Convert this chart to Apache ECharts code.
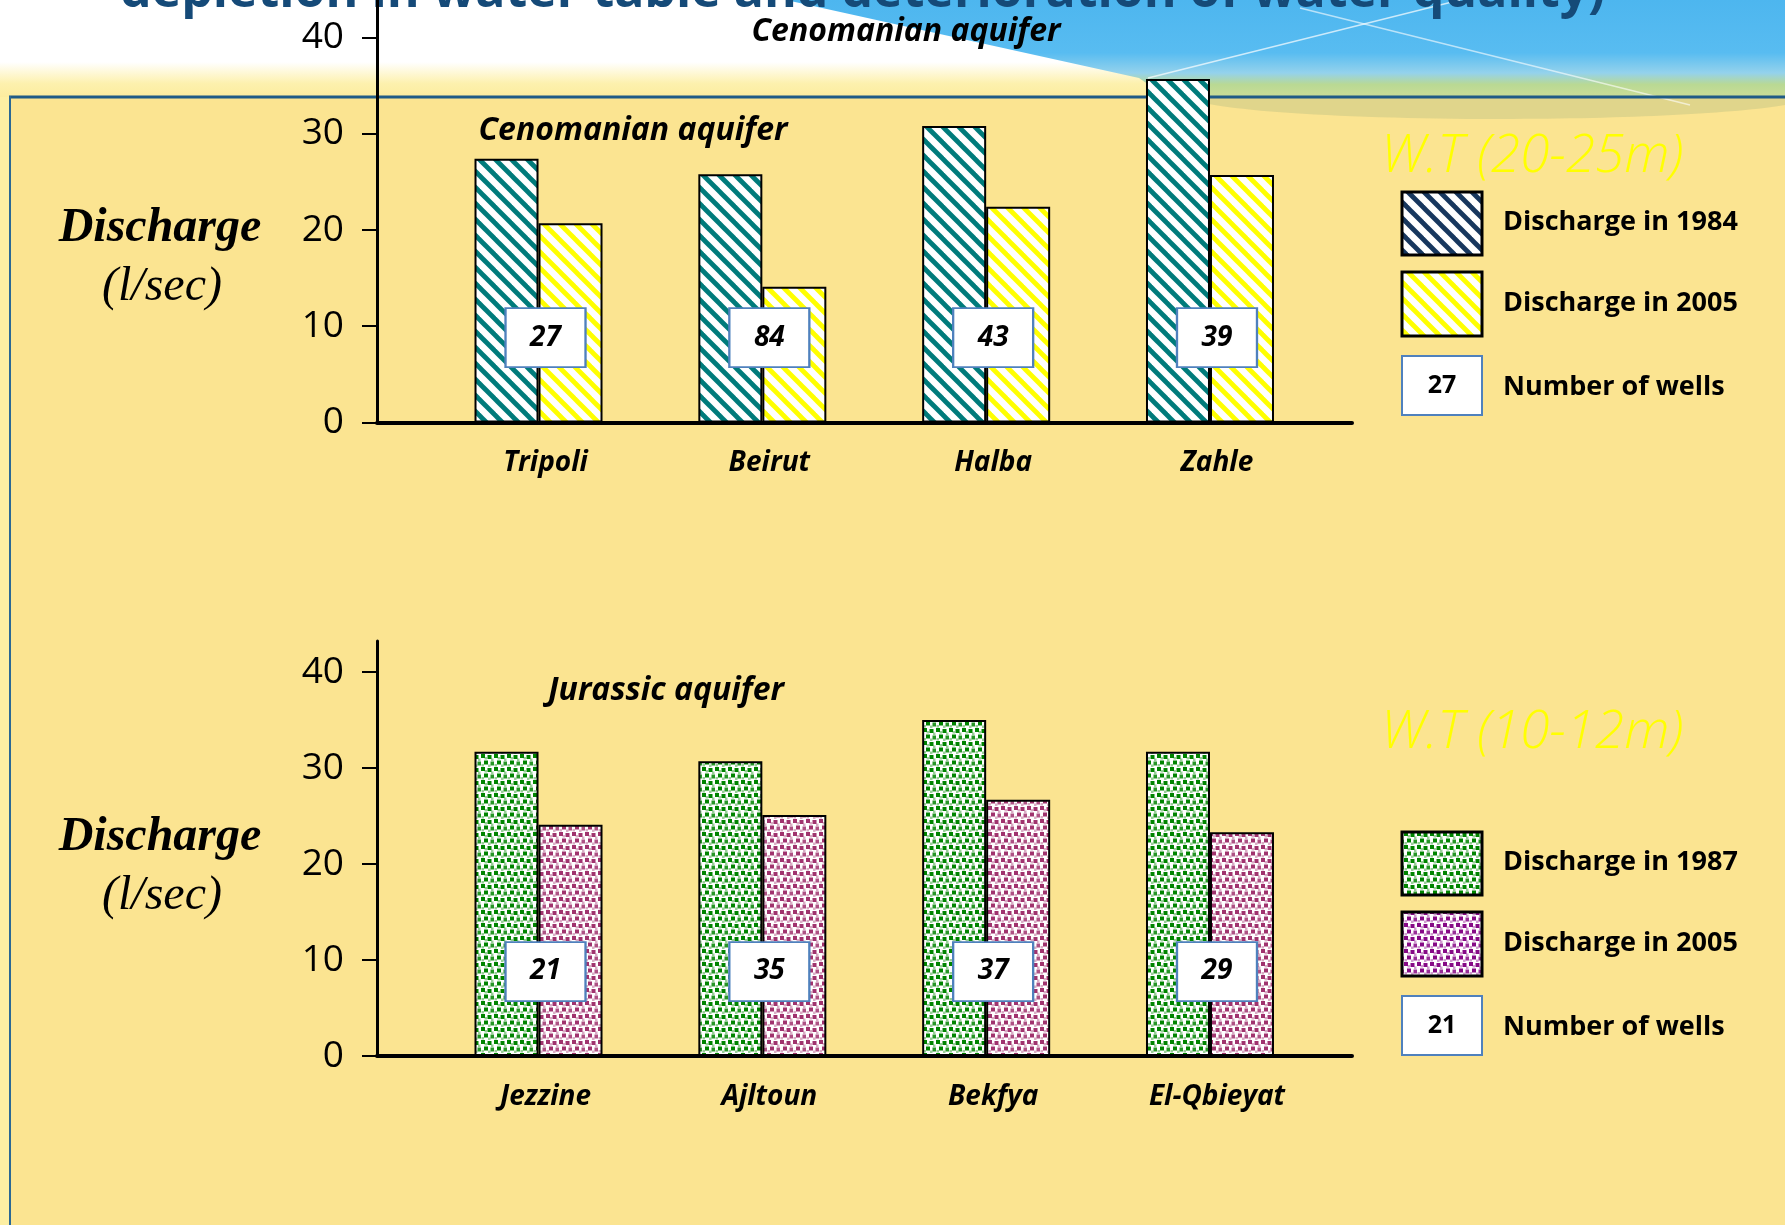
<!DOCTYPE html>
<html><head><meta charset="utf-8">
<script src="https://cdn.jsdelivr.net/npm/echarts@6/dist/echarts.min.js"></script>
<style>html,body{margin:0;padding:0;background:#FBE491;overflow:hidden}#c{width:1785px;height:1225px}</style>
</head><body><div id="c"></div>
<script>
// ---------------- data ----------------
const cenomanianCities = ['Tripoli', 'Beirut', 'Halba', 'Zahle'];
const discharge1984 = [27.4, 25.8, 30.8, 35.7];
const discharge2005Cen = [20.7, 14.1, 22.4, 25.7];
const wellsCen = [27, 84, 43, 39];

const jurassicCities = ['Jezzine', 'Ajltoun', 'Bekfya', 'El-Qbieyat'];
const discharge1987 = [31.7, 30.7, 35.0, 31.7];
const discharge2005Jur = [24.1, 25.1, 26.7, 23.3];
const wellsJur = [21, 35, 37, 29];

const yTickValues = [0, 10, 20, 30, 40];

// ---------------- layout / style ----------------
const SANS = '"Open Sans", "Noto Sans", sans-serif';
const SERIF = '"Liberation Serif", "DejaVu Serif", serif';
const BOX_LEVEL = 8.8;      // vertical centre of the "number of wells" boxes
const TOP_MAX = 43.9, BOT_MAX = 43.23;

function stripes(color) {
  const c = document.createElement('canvas'); c.width = c.height = 16;
  const g = c.getContext('2d');
  g.fillStyle = '#fff'; g.fillRect(0, 0, 16, 16);
  g.strokeStyle = color; g.lineWidth = 4.8;
  for (const o of [-16, 0, 16]) { g.beginPath(); g.moveTo(o - 4, -4); g.lineTo(o + 20, 20); g.stroke(); }
  return { image: c, repeat: 'repeat' };
}
function dots(color) {
  const s = 13, c = document.createElement('canvas'); c.width = c.height = s;
  const g = c.getContext('2d');
  g.fillStyle = '#fff'; g.fillRect(0, 0, s, s);
  g.fillStyle = color;
  [[0,0,4,1],[6.5,1,4,1],[3,6.5,4,1],[9.5,7.5,4,0.85],[3.5,3,2.5,0.4],[10,4.5,2.5,0.4],[7,10.5,2.5,0.4],[0.5,10,2.5,0.4]]
    .forEach(([x, y, d, a]) => { g.globalAlpha = a; g.fillRect(x, y, d, d); });
  g.globalAlpha = 1;
  return { image: c, repeat: 'repeat' };
}
const PAT_TEAL = stripes('#007B7B');
const PAT_YELLOW = stripes('#FFFF00');
const PAT_NAVY = stripes('#17375E');
const PAT_GREEN = dots('#008400');
const PAT_MAGENTA = dots('#A0336E');
const PAT_PURPLE = dots('#860A86');

const chart = echarts.init(document.getElementById('c'), null, { renderer: 'canvas' });

function barGridAxes(gi, cats) {
  return {
    x: { gridIndex: gi, type: 'category', data: cats,
         axisLine: { show: false }, axisTick: { show: false },
         axisLabel: { color: '#000', fontFamily: SANS, fontSize: 28, fontWeight: 'bold', fontStyle: 'italic',
                      margin: 27, padding: [0, 0, 0, 14] } },
    y: { gridIndex: gi, type: 'value', min: 0, max: gi === 0 ? TOP_MAX : BOT_MAX, show: false, splitLine: { show: false } }
  };
}
function frameAxes(gi, max) {
  return {
    x: { gridIndex: gi, type: 'value', min: 0, max: 1, z: 10,
         axisLine: { show: true, onZero: false, lineStyle: { color: '#000', width: 4 } },
         axisTick: { show: false }, axisLabel: { show: false }, splitLine: { show: false } },
    y: { gridIndex: gi, type: 'value', min: 0, max: max, z: 10,
         axisLine: { show: true, lineStyle: { color: '#000', width: 3 } },
         axisTick: { show: true, length: 15, customValues: yTickValues, lineStyle: { color: '#000', width: 2 } },
         axisLabel: { customValues: yTickValues, margin: 33, color: '#000', fontFamily: SANS, fontSize: 37 },
         splitLine: { show: false } }
  };
}
const a0 = barGridAxes(0, cenomanianCities), a1 = frameAxes(1, TOP_MAX);
const a2 = barGridAxes(2, jurassicCities), a3 = frameAxes(3, BOT_MAX);

function bar(name, data, pat, ai) {
  return { type: 'bar', name, data, xAxisIndex: ai, yAxisIndex: ai, barWidth: 64, barGap: '0%',
           itemStyle: { color: pat, borderColor: '#000', borderWidth: 2 }, silent: true, z: 3 };
}
function wellsBoxes(wells, ai) {
  return { type: 'scatter', xAxisIndex: ai, yAxisIndex: ai, silent: true, z: 6,
    data: wells.map((w, i) => ({ value: [i, BOX_LEVEL], wells: w })),
    symbol: 'rect', symbolSize: [80, 59], symbolOffset: [7, 0],
    itemStyle: { color: '#fff', borderColor: '#4F81BD', borderWidth: 2, opacity: 1 },
    label: { show: true, position: 'inside', formatter: p => String(p.data.wells),
             color: '#000', fontFamily: SANS, fontSize: 28, fontWeight: 'bold', fontStyle: 'italic' } };
}

function txt(x, y, text, font, fill, align, z) {
  return { type: 'text', x, y, z: z == null ? 50 : z, silent: true,
           style: { text, font, fill, textAlign: align || 'center', textVerticalAlign: 'middle',
                    align: align || 'center', verticalAlign: 'middle' } };
}
function swatch(x, y, w, h, fill, stroke, lw) {
  return { type: 'rect', z: 50, silent: true, shape: { x, y, width: w, height: h },
           style: { fill, stroke, lineWidth: lw } };
}
function legendBlock(titleY, sy, title, pat1, label1, pat2, label2, sampleWells) {
  return [
    txt(1381, titleY, title, 'italic 300 53px ' + SANS, '#FFFF00', 'left'),
    swatch(1402, sy, 80, 63, pat1, '#000', 3),
    txt(1503, sy + 30, label1, 'bold 27px ' + SANS, '#000', 'left'),
    swatch(1402, sy + 80, 80, 64, pat2, '#000', 3),
    txt(1503, sy + 111, label2, 'bold 27px ' + SANS, '#000', 'left'),
    swatch(1402, sy + 164, 80, 59, '#fff', '#4F81BD', 2),
    txt(1442, sy + 194, String(sampleWells), 'bold 25px ' + SANS, '#000', 'center'),
    txt(1503, sy + 195, 'Number of wells', 'bold 27px ' + SANS, '#000', 'left')
  ];
}

const background = [
  { type: 'rect', z: -20, silent: true, shape: { x: 0, y: 0, width: 1785, height: 97 },
    style: { fill: new echarts.graphic.LinearGradient(0, 0, 0, 1, [
      { offset: 0, color: '#FFFFFF' }, { offset: 0.64, color: '#FFFFFF' },
      { offset: 0.86, color: '#FDF1AE' }, { offset: 1, color: '#FCEC9E' }]) } },
  { type: 'rect', z: -20, silent: true, shape: { x: 0, y: 97, width: 9, height: 1128 }, style: { fill: '#FDEFA3' } },
  { type: 'ellipse', z: -19, silent: true, shape: { cx: 1500, cy: 96, rx: 310, ry: 23 }, style: { fill: 'rgba(185,190,130,0.4)' } },
  { type: 'polygon', z: -18, silent: true,
    shape: { points: [[786, 0], [1785, 0], [1785, 96], [1165, 96], [1139, 78]] },
    style: { fill: new echarts.graphic.LinearGradient(0, 0, 0, 1, [
      { offset: 0, color: '#4DB6EF' }, { offset: 0.55, color: '#58BCF1' },
      { offset: 0.76, color: '#94D2EC' }, { offset: 0.88, color: '#B9D994' }, { offset: 1, color: '#C9DC96' }]) } },
  { type: 'line', z: -17, silent: true, shape: { x1: 1148, y1: 78, x2: 1460, y2: 0 }, style: { stroke: 'rgba(255,255,255,0.7)', lineWidth: 1.5 } },
  { type: 'line', z: -17, silent: true, shape: { x1: 1300, y1: 8, x2: 1690, y2: 105 }, style: { stroke: 'rgba(255,255,255,0.6)', lineWidth: 1.5 } },
  { type: 'rect', z: -16, silent: true, shape: { x: 9, y: 95.5, width: 1776, height: 3 }, style: { fill: '#1F5B86' } },
  { type: 'rect', z: -16, silent: true, shape: { x: 9, y: 96, width: 2, height: 1129 }, style: { fill: '#2A6894' } },
  txt(120, -7, 'depletion in water table and deterioration of water quality)', 'bold 50px ' + SANS, '#154A78', 'left', -15)
];

const option = {
  backgroundColor: '#FBE491',
  animation: false,
  grid: [
    { left: 426.6, width: 895.3, top: 0, height: 422.4 },
    { left: 377, width: 975, top: 0, height: 422.4 },
    { left: 426.6, width: 895.3, top: 641, height: 415 },
    { left: 377, width: 975, top: 641, height: 415 }
  ],
  xAxis: [a0.x, a1.x, a2.x, a3.x],
  yAxis: [a0.y, a1.y, a2.y, a3.y],
  series: [
    bar('Discharge in 1984', discharge1984, PAT_TEAL, 0),
    bar('Discharge in 2005', discharge2005Cen, PAT_YELLOW, 0),
    wellsBoxes(wellsCen, 0),
    bar('Discharge in 1987', discharge1987, PAT_GREEN, 2),
    bar('Discharge in 2005', discharge2005Jur, PAT_MAGENTA, 2),
    wellsBoxes(wellsJur, 2)
  ],
  graphic: { elements: [].concat(
    background,
    [
      txt(906, 32, 'Cenomanian aquifer', 'italic bold 32px ' + SANS, '#000'),
      txt(633, 131, 'Cenomanian aquifer', 'italic bold 32px ' + SANS, '#000'),
      txt(666, 691, 'Jurassic aquifer', 'italic bold 32px ' + SANS, '#000'),
      txt(160, 229, 'Discharge', 'italic bold 48px ' + SERIF, '#000'),
      txt(162, 287, '(l/sec)', 'italic 48px ' + SERIF, '#000'),
      txt(160, 838, 'Discharge', 'italic bold 48px ' + SERIF, '#000'),
      txt(162, 896, '(l/sec)', 'italic 48px ' + SERIF, '#000')
    ],
    legendBlock(157, 192, 'W.T (20-25m)', PAT_NAVY, 'Discharge in 1984', PAT_YELLOW, 'Discharge in 2005', wellsCen[0]),
    legendBlock(733, 832, 'W.T (10-12m)', PAT_GREEN, 'Discharge in 1987', PAT_PURPLE, 'Discharge in 2005', wellsJur[0])
  ) }
};
chart.setOption(option);
</script></body></html>
